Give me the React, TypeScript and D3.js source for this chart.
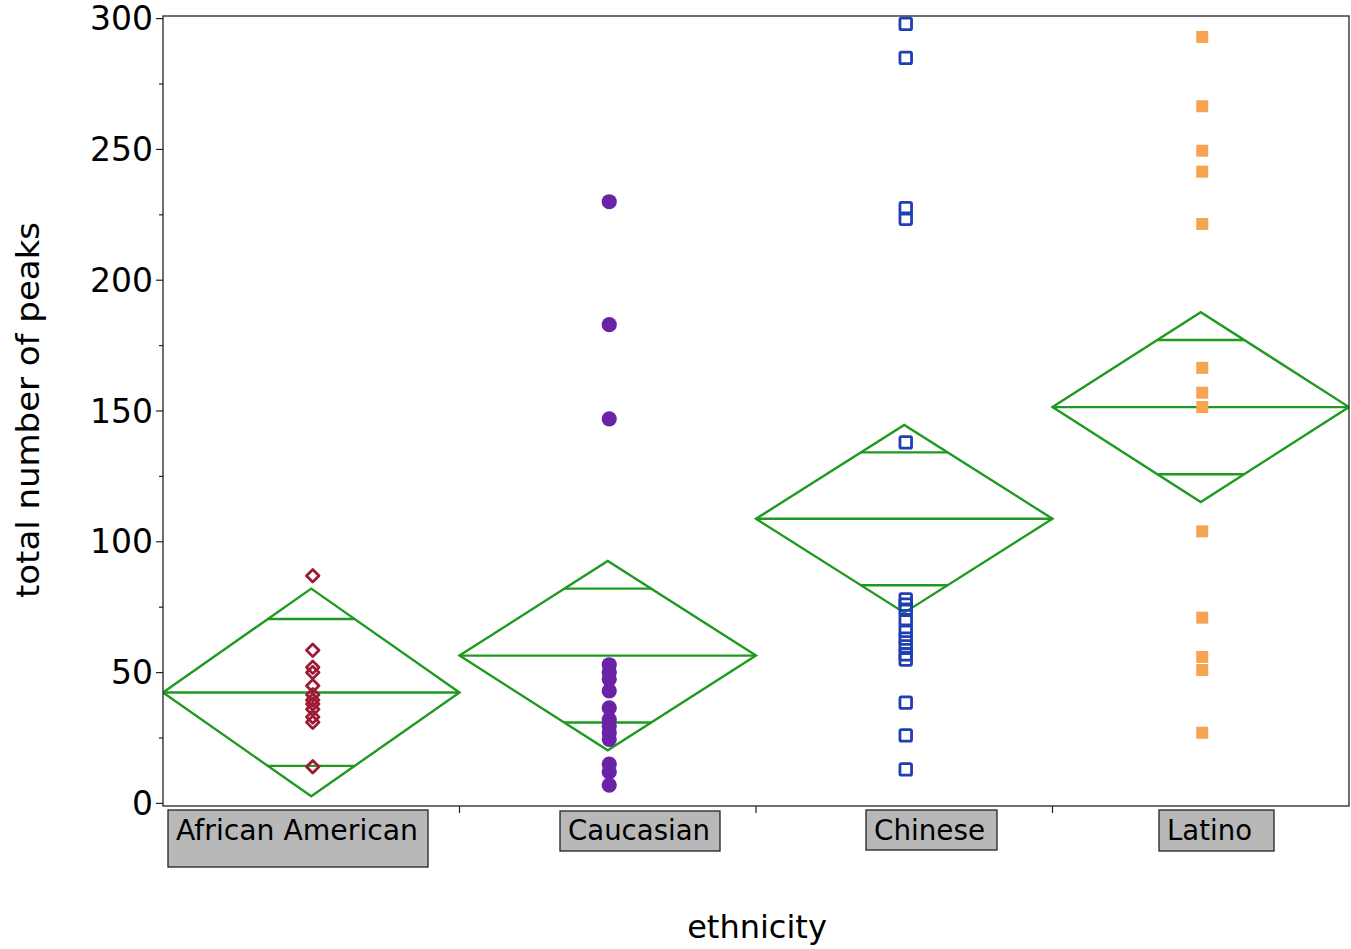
import React from "react";
import * as d3 from "d3";

// Groups on the x axis
const categories = ["African American", "Caucasian", "Chinese", "Latino"];

// Total number of peaks per subject, by ethnicity
const africanAmerican = [87, 58.5, 52, 50, 45, 41.5, 39.5, 38, 36, 33, 31, 14];
const caucasian = [230, 183, 147, 53, 50, 47.5, 43, 36.5, 32, 29.5, 27, 24.5, 15, 12, 7];
const chinese = [298, 285, 227.5, 223.5, 138, 78, 76, 74, 70, 66, 63, 60, 57, 55, 38.5, 26, 13];
const latino = [293, 266.5, 249.5, 241.5, 221.5, 166.5, 157, 151.5, 104, 71, 56, 51, 27];

// Means diamonds: group mean and 95% confidence half-width
const groupMeans = [42.4, 56.5, 108.8, 151.5];
const ciHalfWidths = [39.7, 36.2, 35.9, 36.3];

// Axis ticks
const majorTicks = [0, 50, 100, 150, 200, 250, 300];
const minorTicks = [25, 75, 125, 175, 225, 275];

const W = 1351;
const H = 949;
const plot = { left: 163, right: 1349, top: 16, bottom: 806 };

const green = "#1f9a1f";
const font = "'DejaVu Sans', 'Lucida Grande', sans-serif";

const labelBoxes = [
  { x0: 168, x1: 428, y0: 810, y1: 867, textLen: 242 },
  { x0: 560, x1: 720, y0: 811, y1: 851, textLen: 142 },
  { x0: 866, x1: 997, y0: 810, y1: 850, textLen: 111 },
  { x0: 1159, x1: 1274, y0: 810, y1: 851, textLen: 85 },
];

export default function App() {
  const x = d3
    .scaleBand<string>()
    .domain(categories)
    .range([plot.left, plot.right])
    .padding(0);
  const y = d3.scaleLinear().domain([-1, 301]).range([plot.bottom, plot.top]);

  const series = [africanAmerican, caucasian, chinese, latino];
  const bw = x.bandwidth();
  // point columns sit a touch right of the band centre
  const pointShift = 1.5;

  const diamondSym = d3.symbol().type(d3.symbolDiamond2).size(100)();

  const renderPoint = (gi: number, v: number, i: number) => {
    const cx = (x(categories[gi]) as number) + bw / 2 + pointShift;
    const cy = y(v);
    if (gi === 0) {
      return (
        <path
          key={i}
          d={diamondSym as string}
          transform={`translate(${cx},${cy})`}
          fill="none"
          stroke="#9e1b38"
          strokeWidth={2.8}
          strokeLinejoin="round"
        />
      );
    }
    if (gi === 1) {
      return <circle key={i} cx={cx} cy={cy} r={7.6} fill="#6a22a6" />;
    }
    if (gi === 2) {
      return (
        <rect
          key={i}
          x={cx - 5.8}
          y={cy - 5.8}
          width={11.6}
          height={11.6}
          rx={1.5}
          fill="none"
          stroke="#1f3fb4"
          strokeWidth={2.8}
        />
      );
    }
    return <rect key={i} x={cx - 6} y={cy - 6} width={12} height={12} fill="#f6a352" />;
  };

  return (
    <svg
      width={W}
      height={H}
      style={{ position: "absolute", left: 0, top: 0, background: "#fff" }}
      fontFamily={font}
    >
      <defs>
        <clipPath id="plotClip">
          <rect x={plot.left} y={plot.top} width={plot.right - plot.left} height={plot.bottom - plot.top} />
        </clipPath>
      </defs>

      {/* means diamonds */}
      <g clipPath="url(#plotClip)">
        {categories.map((c, gi) => {
          const x0 = x(c) as number;
          const x1 = x0 + bw;
          const xm = x0 + bw / 2;
          const m = groupMeans[gi];
          const h = ciHalfWidths[gi];
          const top = y(m + h);
          const bot = y(m - h);
          const ym = y(m);
          const ov = h / Math.SQRT2;
          const halfAt = (v: number) => ((h - Math.abs(v - m)) / h) * (bw / 2);
          const up = m + ov;
          const dn = m - ov;
          return (
            <g key={c} stroke={green} strokeWidth={2.4} fill="none">
              <path d={`M${x0},${ym}L${xm},${top}L${x1},${ym}L${xm},${bot}Z`} />
              <line x1={x0} x2={x1} y1={ym} y2={ym} />
              <line x1={xm - halfAt(up)} x2={xm + halfAt(up)} y1={y(up)} y2={y(up)} />
              <line x1={xm - halfAt(dn)} x2={xm + halfAt(dn)} y1={y(dn)} y2={y(dn)} />
            </g>
          );
        })}
        {series.map((vals, gi) => (
          <g key={gi}>{vals.map((v, i) => renderPoint(gi, v, i))}</g>
        ))}
      </g>

      {/* frame */}
      <rect
        x={plot.left}
        y={plot.top}
        width={plot.right - plot.left}
        height={plot.bottom - plot.top}
        fill="none"
        stroke="#222"
        strokeWidth={1.3}
      />

      {/* y axis ticks */}
      {majorTicks.map((t) => (
        <g key={t}>
          <line x1={plot.left - 7} x2={plot.left} y1={y(t)} y2={y(t)} stroke="#222" strokeWidth={1.2} />
          <text
            x={153}
            y={y(t)}
            textAnchor="end"
            dominantBaseline="central"
            fontSize={33}
            fill="#000"
          >
            {t}
          </text>
        </g>
      ))}
      {minorTicks.map((t) => (
        <line key={t} x1={plot.left - 4} x2={plot.left} y1={y(t)} y2={y(t)} stroke="#222" strokeWidth={1.2} />
      ))}

      {/* x axis ticks at group boundaries */}
      {categories.slice(1).map((c) => {
        const xb = x(c) as number;
        return <line key={c} x1={xb} x2={xb} y1={plot.bottom} y2={plot.bottom + 7} stroke="#222" strokeWidth={1.2} />;
      })}

      {/* category labels */}
      {categories.map((c, gi) => {
        const b = labelBoxes[gi];
        return (
          <g key={c}>
            <rect
              x={b.x0}
              y={b.y0}
              width={b.x1 - b.x0}
              height={b.y1 - b.y0}
              fill="#b8b8b8"
              stroke="#222"
              strokeWidth={1.3}
            />
            <text
              x={b.x0 + 8}
              y={840}
              fontSize={28}
              fill="#000"
              textLength={b.textLen}
              lengthAdjust="spacingAndGlyphs"
            >
              {c}
            </text>
          </g>
        );
      })}

      {/* axis titles */}
      <text x={757} y={938} textAnchor="middle" fontSize={32} fill="#000">
        ethnicity
      </text>
      <text
        transform={`translate(39,410) rotate(-90)`}
        textAnchor="middle"
        fontSize={32}
        fill="#000"
        textLength={376}
        lengthAdjust="spacingAndGlyphs"
      >
        total number of peaks
      </text>
    </svg>
  );
}
